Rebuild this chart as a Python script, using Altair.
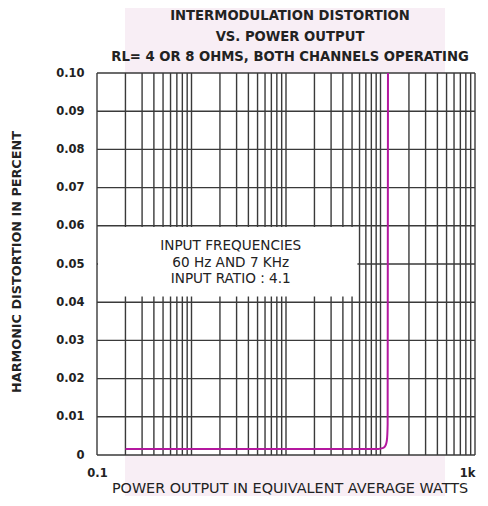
import altair as alt
import pandas as pd

# ---- data ----
power_w = [0.2, 50, 95, 105, 111, 115, 117.5, 119, 120]
imd_pct = [0.0016, 0.0016, 0.0016, 0.0018, 0.0022, 0.003, 0.0045, 0.008, 0.10]

x_tick_values = [0.1, 1, 10, 100, 1000]
y_tick_values = [0, 0.01, 0.02, 0.03, 0.04, 0.05, 0.06, 0.07, 0.08, 0.09, 0.10]

note_lines = ["INPUT FREQUENCIES", "60 Hz AND 7 KHz", "INPUT RATIO : 4.1"]
note_y = [0.0546, 0.0503, 0.0460]
note_x = [2.6, 2.6, 2.6]

box_x = [0.1025]
box_x2 = [57]
box_y = [0.0415]
box_y2 = [0.0597]

title_lines = ["INTERMODULATION DISTORTION", "VS. POWER OUTPUT",
               "RL= 4 OR 8 OHMS, BOTH CHANNELS OPERATING"]
x_title = "POWER OUTPUT IN EQUIVALENT AVERAGE WATTS"
y_title = "HARMONIC DISTORTION IN PERCENT"

x_grid = [m * 10 ** e for e in range(-1, 3) for m in range(1, 10)] + [1000]

FONT = "DejaVu Sans"
INK = "#222222"
GRID = "#3a3a3a"
PINK = "#f8eef5"

W, H = 378, 382

xscale = alt.Scale(type="log", domain=[0.1, 1000], nice=False)
yscale = alt.Scale(domain=[0, 0.10], nice=False, zero=False)

xaxis = alt.Axis(
    values=x_tick_values, grid=False, ticks=False, domain=False, title="",
    labelExpr="datum.value >= 1000 ? '1k' : (datum.value < 1 ? '0.1' : format(datum.value, 'd'))",
    labelAlign={"condition": {"test": "datum.value >= 1000", "value": "right"}, "value": "center"},
    labelFont=FONT, labelFontSize=11.5, labelFontWeight="bold", labelColor=INK,
    labelPadding=12, labelFlush=False, labelOverlap=False, labelBound=False,
)
yaxis = alt.Axis(
    values=y_tick_values, grid=False, ticks=False, domain=False, title="",
    labelExpr="datum.value == 0 ? '0' : format(datum.value, '.2f')",
    labelFont=FONT, labelFontSize=11.5, labelFontWeight="bold", labelColor=INK,
    labelPadding=13, labelFlush=False, labelOverlap=False, labelBound=False,
)

one = pd.DataFrame({"a": [0]})

# pink paper bands outside the plot (decoration)
pink_top = alt.Chart(one).mark_rect(color=PINK).encode(
    x=alt.value(28), x2=alt.value(348), y=alt.value(-70), y2=alt.value(0))
pink_bot = alt.Chart(one).mark_rect(color=PINK).encode(
    x=alt.value(28), x2=alt.value(348), y=alt.value(H), y2=alt.value(H + 45))

vgrid = alt.Chart(pd.DataFrame({"x": x_grid})).mark_rule(color=GRID, strokeWidth=1.4).encode(
    x=alt.X("x:Q", scale=xscale, axis=xaxis))
hgrid = alt.Chart(pd.DataFrame({"y": y_tick_values})).mark_rule(color=GRID, strokeWidth=1.4).encode(
    y=alt.Y("y:Q", scale=yscale, axis=yaxis))

box = alt.Chart(pd.DataFrame({"x": box_x, "x2": box_x2, "y": box_y, "y2": box_y2})).mark_rect(
    color="white").encode(
    x=alt.X("x:Q", scale=xscale, axis=xaxis), x2="x2:Q",
    y=alt.Y("y:Q", scale=yscale, axis=yaxis), y2="y2:Q")

note = alt.Chart(pd.DataFrame({"x": note_x, "y": note_y, "t": note_lines})).mark_text(
    font=FONT, fontSize=13.6, color=INK, align="center", baseline="middle").encode(
    x=alt.X("x:Q", scale=xscale, axis=xaxis), y=alt.Y("y:Q", scale=yscale, axis=yaxis), text="t:N")

curve = alt.Chart(pd.DataFrame({"p": power_w, "d": imd_pct})).mark_line(
    color="#b4189f", strokeWidth=2, interpolate="monotone").encode(
    x=alt.X("p:Q", scale=xscale, axis=xaxis), y=alt.Y("d:Q", scale=yscale, axis=yaxis))

# chart title (three lines) as text
title_y = [-57, -36, -16]
title_layers = [
    alt.Chart(one).mark_text(
        text=t, font=FONT, fontSize=13.2, fontWeight="bold", color=INK,
        align="center", baseline="middle"
    ).encode(x=alt.value(193), y=alt.value(ty))
    for t, ty in zip(title_lines, title_y)
]

xt = alt.Chart(one).mark_text(
    text=x_title, font=FONT, fontSize=14.4, color=INK, align="center", baseline="bottom"
).encode(x=alt.value(193), y=alt.value(H + 41))

yt = alt.Chart(one).mark_text(
    text=y_title, font=FONT, fontSize=12.8, fontWeight="bold", color=INK,
    align="center", baseline="middle", angle=270
).encode(x=alt.value(-80), y=alt.value(H / 2 - 2))

chart = alt.layer(pink_top, pink_bot, vgrid, hgrid, box, note, curve, *title_layers, xt, yt).properties(
    width=W, height=H,
    autosize=alt.AutoSizeParams(type="none"),
    padding={"left": 89, "top": 65, "right": 5, "bottom": 41},
    background="white",
).configure_view(stroke=None, fill="white")

chart.save("out.html", embed_options={"renderer": "svg", "actions": False})
